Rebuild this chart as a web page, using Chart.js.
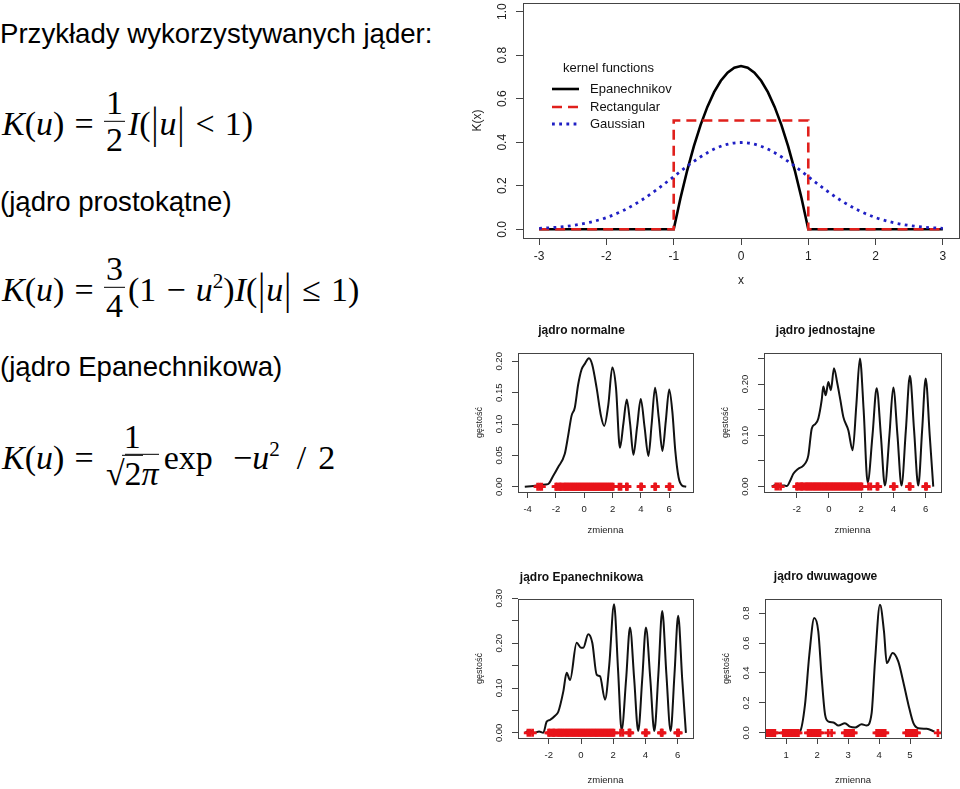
<!DOCTYPE html>
<html>
<head>
<meta charset="utf-8">
<script src="https://cdn.jsdelivr.net/npm/chart.js@4.4.1/dist/chart.umd.min.js"></script>
<style>
  html, body { margin: 0; padding: 0; background: #fff; }
  body { position: relative; width: 960px; height: 789px; overflow: hidden; }
  canvas { position: absolute; }
  .txt { position: absolute; left: 0; font-family: 'Liberation Sans', Arial, sans-serif; font-size: 27.6px; line-height: 1; color: #000; white-space: nowrap; }
  .eq { position: absolute; left: 2px; transform: translateY(-50%); display: flex; align-items: center;
        font-family: 'Liberation Serif', 'DejaVu Serif', serif; font-size: 34px; line-height: 1; color: #000; white-space: nowrap; }
  .eq .t { position: relative; top: 3px; }
  .eq .op { margin: 0 0.3em; }
  .eq .bar { display: inline-block; transform: scaleY(1.3); margin: 0 1px; }
  .eq sup { font-size: 0.62em; vertical-align: 0.6em; line-height: 0; }
  .frac { display: inline-flex; flex-direction: column; align-items: center; margin: 0 3px 0 0; }
  .frac > span { line-height: 1.05; padding: 0 2px; }
  .frac > span:first-child { border-bottom: 1.6px solid #000; }
  .sq { border-top: 1.6px solid #000; }
</style>
</head>
<body>

<div class="txt" style="top:20px">Przykłady wykorzystywanych jąder:</div>

<div class="eq" style="top:121px">
  <span class="t"><i>K</i>(<i>u</i>)<span class="op">=</span></span>
  <span class="frac"><span>1</span><span>2</span></span>
  <span class="t"><i>I</i>(<span class="bar">|</span><i>u</i><span class="bar">|</span><span class="op">&lt;</span>1)</span>
</div>

<div class="txt" style="top:188px">(jądro prostokątne)</div>

<div class="eq" style="top:287px">
  <span class="t"><i>K</i>(<i>u</i>)<span class="op">=</span></span>
  <span class="frac"><span>3</span><span>4</span></span>
  <span class="t">(1<span class="op">−</span><i>u</i><sup>2</sup>)<i>I</i>(<span class="bar">|</span><i>u</i><span class="bar">|</span><span class="op">≤</span>1)</span>
</div>

<div class="txt" style="top:353px">(jądro Epanechnikowa)</div>

<div class="eq" style="top:455px">
  <span class="t"><i>K</i>(<i>u</i>)<span class="op">=</span></span>
  <span class="frac"><span>1</span><span>√<span class="sq">2<i>π</i></span></span></span>
  <span class="t">exp<span style="margin-left:0.6em">−<i>u</i><sup>2</sup></span><span style="margin:0 0.35em 0 0.5em">/</span>2</span>
</div>

<canvas id="kernels" width="490" height="300" style="left:470px;top:0px"></canvas>
<canvas id="c1" width="271" height="240" style="left:470px;top:310px"></canvas>
<canvas id="c2" width="285" height="240" style="left:710px;top:310px"></canvas>
<canvas id="c3" width="271" height="229" style="left:470px;top:560px"></canvas>
<canvas id="c4" width="286" height="229" style="left:710px;top:560px"></canvas>

<script>
// ---- kernel functions (top plot) ----
const epanX = [-3, -1, -0.9, -0.8, -0.7, -0.6, -0.5, -0.4, -0.3, -0.2, -0.1, 0,
               0.1, 0.2, 0.3, 0.4, 0.5, 0.6, 0.7, 0.8, 0.9, 1, 3];
const epanY = [0, 0, 0.1425, 0.27, 0.3825, 0.48, 0.5625, 0.63, 0.6825, 0.72, 0.7425, 0.75,
               0.7425, 0.72, 0.6825, 0.63, 0.5625, 0.48, 0.3825, 0.27, 0.1425, 0, 0];
const rectX = [-3, -1, -1, 1, 1, 3];
const rectY = [0, 0, 0.5, 0.5, 0, 0];
const gaussX = [-3, -2.75, -2.5, -2.25, -2, -1.75, -1.5, -1.25, -1, -0.75, -0.5, -0.25, 0,
                0.25, 0.5, 0.75, 1, 1.25, 1.5, 1.75, 2, 2.25, 2.5, 2.75, 3];
const gaussY = [0.0044, 0.0091, 0.0175, 0.0317, 0.054, 0.0863, 0.1295, 0.1826, 0.242, 0.3011, 0.3521, 0.3867, 0.3989,
                0.3867, 0.3521, 0.3011, 0.242, 0.1826, 0.1295, 0.0863, 0.054, 0.0317, 0.0175, 0.0091, 0.0044];
const kernelXTicks = [-3, -2, -1, 0, 1, 2, 3];
const kernelYTicks = [0, 0.2, 0.4, 0.6, 0.8, 1.0];
const kernelYLabels = ['0.0', '0.2', '0.4', '0.6', '0.8', '1.0'];

// ---- observations (rug), same sample for the first three plots ----
const obsA = [-3.3, -3.15, -3.0,
  -2.02, -1.96, -1.9, -1.78, -1.72, -1.66, -1.6, -1.47, -1.4, -1.33, -1.26, -1.18, -1.11, -1.03, -0.95,
  -0.88, -0.8, -0.73, -0.65, -0.58, -0.5, -0.43, -0.35, -0.28, -0.2, -0.13, -0.05, 0.02, 0.1, 0.17, 0.25,
  0.32, 0.4, 0.47, 0.55, 0.62, 0.7, 0.77, 0.85, 0.92, 1.0, 1.07, 1.15, 1.22, 1.3, 1.37, 1.45, 1.52, 1.6,
  1.67, 1.75, 1.82, 1.9, 1.97, 2.05,
  2.45, 2.6,
  2.97, 3.01, 3.05,
  3.98, 4.02, 4.06,
  4.97, 5.01, 5.05,
  5.98, 6.02, 6.06];
const obsB = [0.36, 0.41, 0.46, 0.51, 0.56, 0.61, 0.64,
  0.91, 0.96, 1.01, 1.06, 1.11, 1.16, 1.21, 1.26, 1.31, 1.36, 1.4,
  1.71, 1.76, 1.81, 1.86, 1.91, 1.96, 2.01, 2.06, 2.1,
  2.36, 2.47,
  2.9, 2.95, 3.0, 3.05, 3.1, 3.15, 3.18,
  3.92, 3.97, 4.02, 4.07, 4.12, 4.17, 4.2,
  4.88, 4.93, 4.98, 5.03, 5.08, 5.13, 5.18, 5.22,
  5.9];

// ---- density estimates ----
const normX = [-4.2, -3.6, -3.0, -2.56, -2.2, -1.85, -1.38, -1.14, -0.9, -0.67, -0.43, -0.19, 0.04, 0.33, 0.56,
  0.87, 1.18, 1.41, 1.7, 1.98, 2.24, 2.52, 2.76, 3.0, 3.24, 3.47, 3.73, 3.99, 4.26, 4.53, 4.76, 5.0, 5.26,
  5.52, 5.76, 6.0, 6.22, 6.43, 6.66, 6.9, 7.2];
const normY = [0, 0.001, 0.003, 0.004, 0.017, 0.031, 0.052, 0.081, 0.113, 0.126, 0.163, 0.187, 0.196, 0.205, 0.195,
  0.158, 0.113, 0.097, 0.131, 0.19, 0.158, 0.062, 0.1, 0.139, 0.1, 0.051, 0.095, 0.14, 0.095, 0.049, 0.1, 0.158, 0.11,
  0.057, 0.105, 0.155, 0.12, 0.057, 0.015, 0.002, 0];
const unifX = [-3.55, -3.3, -3.0, -2.75, -2.62, -2.4, -2.21, -1.9, -1.59, -1.28, -1.07, -0.85, -0.66, -0.45, -0.35,
  -0.2, -0.04, 0.12, 0.31, 0.52, 0.7, 0.89, 1.2, 1.47, 1.7, 1.92, 2.15, 2.4, 2.7, 2.96, 3.22, 3.47, 3.75, 3.99,
  4.25, 4.5, 4.77, 5.02, 5.28, 5.54, 5.78, 6.0, 6.25, 6.47];
const unifY = [0, 0.003, 0.002, 0.002, 0.001, 0.012, 0.025, 0.035, 0.041, 0.061, 0.113, 0.122, 0.133, 0.169, 0.195,
  0.178, 0.204, 0.188, 0.231, 0.201, 0.17, 0.136, 0.11, 0.071, 0.16, 0.25, 0.15, 0.008, 0.1, 0.192, 0.1, 0.002, 0.1, 0.193,
  0.1, 0.002, 0.11, 0.216, 0.11, 0.002, 0.11, 0.211, 0.1, 0];
const epaX = [-3.47, -3.2, -2.9, -2.6, -2.34, -2.13, -1.92, -1.61, -1.41, -1.1, -0.89, -0.68, -0.27, 0.0, 0.14, 0.45,
  0.7, 0.97, 1.18, 1.49, 1.75, 2.05, 2.3, 2.52, 2.8, 3.04, 3.3, 3.55, 3.8, 4.03, 4.3, 4.55, 4.8, 5.04, 5.3, 5.56,
  5.8, 6.03, 6.28, 6.51];
const epaY = [0, 0.006, 0, 0.003, 0, 0.025, 0.029, 0.038, 0.047, 0.092, 0.134, 0.118, 0.201, 0.19, 0.19, 0.22,
  0.201, 0.13, 0.126, 0.074, 0.15, 0.287, 0.14, 0.006, 0.12, 0.235, 0.12, 0.004, 0.12, 0.235, 0.12, 0.004, 0.13, 0.272,
  0.13, 0.004, 0.13, 0.261, 0.12, 0];
const biwX = [0.53, 1.3, 1.45, 1.61, 1.75, 1.91, 2.04, 2.15, 2.26, 2.37, 2.53, 2.69, 2.9, 3.06, 3.23, 3.44, 3.6,
  3.76, 3.87, 4.03, 4.16, 4.25, 4.44, 4.62, 4.78, 4.95, 5.11, 5.27, 5.54, 5.79];
const biwY = [0, 0, 0.01, 0.187, 0.52, 0.767, 0.677, 0.366, 0.12, 0.076, 0.07, 0.049, 0.065, 0.042, 0.036, 0.058, 0.05,
  0.13, 0.477, 0.856, 0.677, 0.466, 0.533, 0.477, 0.343, 0.187, 0.065, 0.031, 0.027, 0.009];

const pts = (xs, ys) => xs.map((x, i) => ({ x: x, y: ys[i] }));
const SANS = "'Liberation Sans', Arial, sans-serif";

Chart.defaults.font.family = SANS;
Chart.defaults.color = '#222';

// box round the plot region and R-style vertical y tick labels
const rFrame = {
  id: 'rFrame',
  afterDatasetsDraw(chart, args, o) {
    const { ctx, chartArea: a, scales: { y } } = chart;
    ctx.save();
    ctx.strokeStyle = '#444';
    ctx.lineWidth = 1;
    ctx.strokeRect(Math.round(a.left) + 0.5, Math.round(a.top) + 0.5, Math.round(a.width), Math.round(a.height));
    ctx.fillStyle = '#222';
    ctx.font = o.size + 'px ' + SANS;
    ctx.textAlign = 'center';
    ctx.textBaseline = 'middle';
    y.ticks.forEach(t => {
      if (!t.label) return;
      ctx.save();
      ctx.translate(a.left - o.offset, y.getPixelForValue(t.value));
      ctx.rotate(-Math.PI / 2);
      ctx.fillText(t.label, 0, 0);
      ctx.restore();
    });
    ctx.restore();
  }
};

// legend drawn inside the plot, no box (like R's bty="n")
const kernelLegend = {
  id: 'kernelLegend',
  afterDatasetsDraw(chart) {
    const { ctx, chartArea: a } = chart;
    ctx.save();
    ctx.font = '13px ' + SANS;
    ctx.fillStyle = '#111';
    ctx.textBaseline = 'middle';
    ctx.fillText('kernel functions', a.left + 40, a.top + 65);
    const rows = [86, 104, 121];
    chart.data.datasets.forEach((ds, i) => {
      const py = a.top + rows[i];
      ctx.beginPath();
      ctx.strokeStyle = ds.borderColor;
      ctx.lineWidth = ds.borderWidth;
      ctx.setLineDash(ds.borderDash || []);
      ctx.moveTo(a.left + 29, py);
      ctx.lineTo(a.left + 56, py);
      ctx.stroke();
      ctx.setLineDash([]);
      ctx.fillText(ds.label, a.left + 67, py);
    });
    ctx.restore();
  }
};

function setTicks(values) {
  return s => { s.ticks = values.map(v => ({ value: v })); };
}

new Chart(document.getElementById('kernels'), {
  type: 'scatter',
  data: {
    datasets: [
      { label: 'Epanechnikov', data: pts(epanX, epanY), showLine: true, borderColor: '#000', borderWidth: 2.6,
        pointRadius: 0, tension: 0, order: 3 },
      { label: 'Rectangular', data: pts(rectX, rectY), showLine: true, borderColor: '#e0201c', borderWidth: 2.6,
        borderDash: [10, 6], pointRadius: 0, tension: 0, order: 2 },
      { label: 'Gaussian', data: pts(gaussX, gaussY), showLine: true, borderColor: '#1f1fc4', borderWidth: 2.8,
        borderDash: [2.8, 4.4], pointRadius: 0, cubicInterpolationMode: 'monotone', order: 1 }
    ]
  },
  options: {
    responsive: false,
    animation: false,
    devicePixelRatio: 1,
    layout: { padding: { top: 3, right: 1, left: 0, bottom: 0 } },
    plugins: { legend: { display: false }, tooltip: { enabled: false }, rFrame: { size: 12, offset: 20 } },
    scales: {
      x: {
        type: 'linear', min: -3.24, max: 3.24,
        afterBuildTicks: setTicks(kernelXTicks),
        afterFit: s => { s.height = 62; },
        border: { display: false },
        grid: { drawOnChartArea: false, tickLength: 7, color: '#444' },
        ticks: { font: { size: 12 }, padding: 4, color: '#222', maxRotation: 0 },
        title: { display: true, text: 'x', font: { size: 12 }, padding: { top: 0, bottom: 11.8 }, color: '#222' }
      },
      y: {
        type: 'linear', min: -0.04, max: 1.04,
        afterBuildTicks: setTicks(kernelYTicks),
        afterFit: s => { s.width = 53; },
        border: { display: false },
        grid: { drawOnChartArea: false, tickLength: 7, color: '#444' },
        ticks: { display: false, callback: (v, i) => kernelYLabels[i] },
        title: { display: true, text: 'K(x)', font: { size: 12 }, padding: { top: 0.8, bottom: 0 }, color: '#222' }
      }
    }
  },
  plugins: [rFrame, kernelLegend]
});

// ---- the four density plots ----
function densityChart(c) {
  const fs = 9.5, lh = fs * 1.2;
  new Chart(document.getElementById(c.id), {
    type: 'scatter',
    data: {
      datasets: [
        { data: pts(c.obs, c.obs.map(() => 0)), pointStyle: 'cross', pointRadius: 4,
          pointBorderColor: '#e8141a', pointBackgroundColor: '#e8141a', pointBorderWidth: 2.6, order: 1 },
        { data: pts(c.dx, c.dy), showLine: true, borderColor: '#111', borderWidth: 2, pointRadius: 0,
          cubicInterpolationMode: 'monotone', order: 2 }
      ]
    },
    options: {
      responsive: false,
      animation: false,
      devicePixelRatio: 1,
      layout: { padding: { top: 0, left: 0, bottom: 0, right: c.padRight } },
      plugins: {
        legend: { display: false },
        tooltip: { enabled: false },
        title: { display: true, text: c.title, color: '#111', font: { size: 12, weight: 'bold' },
                 padding: { top: c.titleY - 7.2, bottom: c.top - c.titleY - 7.2 } },
        rFrame: { size: fs, offset: 19 }
      },
      scales: {
        x: {
          type: 'linear', min: c.xRange[0], max: c.xRange[1],
          afterBuildTicks: setTicks(c.xTicks),
          afterFit: s => { s.height = c.h - c.bottom; },
          border: { display: false },
          grid: { drawOnChartArea: false, tickLength: 6, color: '#444' },
          ticks: { font: { size: fs }, padding: 5.8, color: '#222', maxRotation: 0 },
          title: { display: true, text: 'zmienna', font: { size: fs }, color: '#222',
                   padding: { top: 0, bottom: c.h - c.xTitleY - lh / 2 } }
        },
        y: {
          type: 'linear', min: c.yRange[0], max: c.yRange[1],
          afterBuildTicks: setTicks(c.yTicks),
          afterFit: s => { s.width = c.left; },
          border: { display: false },
          grid: { drawOnChartArea: false, tickLength: 6, color: '#444' },
          ticks: { display: false, callback: (v, i) => c.yLabels[i] },
          title: { display: true, text: 'gęstość', font: { size: 9 }, color: '#222',
                   padding: { top: c.left - 38.5 - 5.4, bottom: 0 } }
        }
      }
    },
    plugins: [rFrame]
  });
}

densityChart({ id: 'c1', title: 'jądro normalne', obs: obsA, dx: normX, dy: normY,
  xRange: [-4.68, 7.68], yRange: [-0.0085, 0.2133],
  xTicks: [-4, -2, 0, 2, 4, 6], yTicks: [0, 0.05, 0.1, 0.15, 0.2], yLabels: ['0.00', '0.05', '0.10', '0.15', '0.20'],
  h: 240, left: 48, top: 43, bottom: 182, padRight: 48, titleY: 21, xTitleY: 220.7 });

densityChart({ id: 'c2', title: 'jądro jednostajne', obs: obsA, dx: unifX, dy: unifY,
  xRange: [-4.03, 6.95], yRange: [-0.0105, 0.2605],
  xTicks: [-2, 0, 2, 4, 6], yTicks: [0, 0.05, 0.1, 0.15, 0.2, 0.25], yLabels: ['0.00', '', '0.10', '', '0.20', ''],
  h: 240, left: 54, top: 43, bottom: 182, padRight: 54, titleY: 21, xTitleY: 220.7 });

densityChart({ id: 'c3', title: 'jądro Epanechnikowa', obs: obsA, dx: epaX, dy: epaY,
  xRange: [-3.91, 6.95], yRange: [-0.0115, 0.2985],
  xTicks: [-2, 0, 2, 4, 6], yTicks: [0, 0.05, 0.1, 0.15, 0.2, 0.25, 0.3], yLabels: ['0.00', '', '0.10', '', '0.20', '', '0.30'],
  h: 229, left: 48, top: 39, bottom: 178, padRight: 48, titleY: 17.5, xTitleY: 220 });

densityChart({ id: 'c4', title: 'jądro dwuwagowe', obs: obsB, dx: biwX, dy: biwY,
  xRange: [0.32, 6.0], yRange: [-0.034, 0.894],
  xTicks: [1, 2, 3, 4, 5], yTicks: [0, 0.2, 0.4, 0.6, 0.8], yLabels: ['0.0', '0.2', '0.4', '0.6', '0.8'],
  h: 229, left: 55, top: 39, bottom: 178, padRight: 55, titleY: 16.7, xTitleY: 220 });
</script>
</body>
</html>
